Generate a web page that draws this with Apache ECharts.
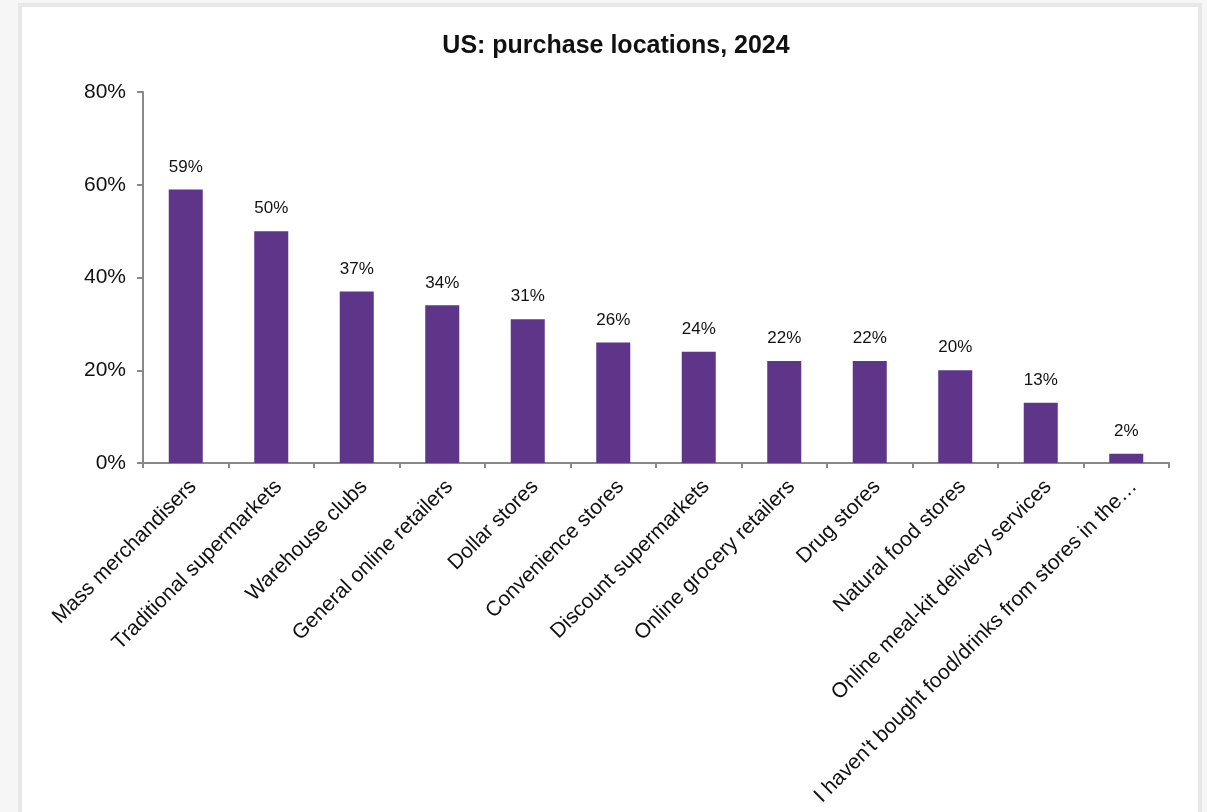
<!DOCTYPE html>
<html>
<head>
<meta charset="utf-8">
<script src="https://cdn.jsdelivr.net/npm/echarts@6/dist/echarts.min.js"></script>
<style>
  html, body { margin: 0; padding: 0; width: 1207px; height: 812px; overflow: hidden; background: #f6f6f6; }
  #frame { position: absolute; left: 18px; top: 3px; width: 1176px; height: 830px; border: 4px solid #e8e8e8; background: #ffffff; }
  #chart { position: absolute; left: 0; top: 0; width: 1207px; height: 812px; }
</style>
</head>
<body>
<div id="frame"></div>
<div id="chart"></div>
<script>
// Share of US consumers buying food/drinks at each location type, 2024 (%)
const titleText = 'US: purchase locations, 2024';
const categories = [
  'Mass merchandisers',
  'Traditional supermarkets',
  'Warehouse clubs',
  'General online retailers',
  'Dollar stores',
  'Convenience stores',
  'Discount supermarkets',
  'Online grocery retailers',
  'Drug stores',
  'Natural food stores',
  'Online meal-kit delivery services',
  "I haven't bought food/drinks from stores in the\u2026"
];
const shares = [59, 50, 37, 34, 31, 26, 24, 22, 22, 20, 13, 2];
const yTicks = [0, 20, 40, 60, 80];

const font = 'Arial, "Liberation Sans", sans-serif';
const axisGray = '#898989';

const chart = echarts.init(document.getElementById('chart'), null, { renderer: 'canvas' });
chart.setOption({
  backgroundColor: 'transparent',
  animation: false,
  title: {
    text: titleText,
    left: 611,
    top: 29,
    textAlign: 'center',
    textStyle: { fontFamily: font, fontSize: 25, fontWeight: 'bold', color: '#111' }
  },
  grid: { left: 143, right: 38, top: 92, bottom: 349, containLabel: false },
  xAxis: {
    type: 'category',
    data: categories,
    axisLine: { lineStyle: { color: axisGray, width: 2 } },
    axisTick: { show: true, length: 5, lineStyle: { color: axisGray, width: 2 } },
    axisLabel: {
      interval: 0,
      rotate: 45,
      margin: 13,
      verticalAlign: 'top',
      fontFamily: font,
      fontSize: 21,
      color: '#111'
    }
  },
  yAxis: {
    type: 'value',
    min: yTicks[0],
    max: yTicks[yTicks.length - 1],
    interval: 20,
    axisLine: { show: true, lineStyle: { color: axisGray, width: 2 } },
    axisTick: { show: true, length: 6, lineStyle: { color: axisGray, width: 2 } },
    splitLine: { show: false },
    axisLabel: {
      formatter: v => v + '%',
      margin: 17,
      fontFamily: font,
      fontSize: 21,
      color: '#111'
    }
  },
  series: [{
    type: 'bar',
    data: shares,
    barWidth: 34,
    itemStyle: { color: '#5e3589' },
    label: {
      show: true,
      position: 'top',
      distance: 14,
      formatter: p => p.value + '%',
      fontFamily: font,
      fontSize: 17,
      color: '#111'
    }
  }]
});
</script>
</body>
</html>
